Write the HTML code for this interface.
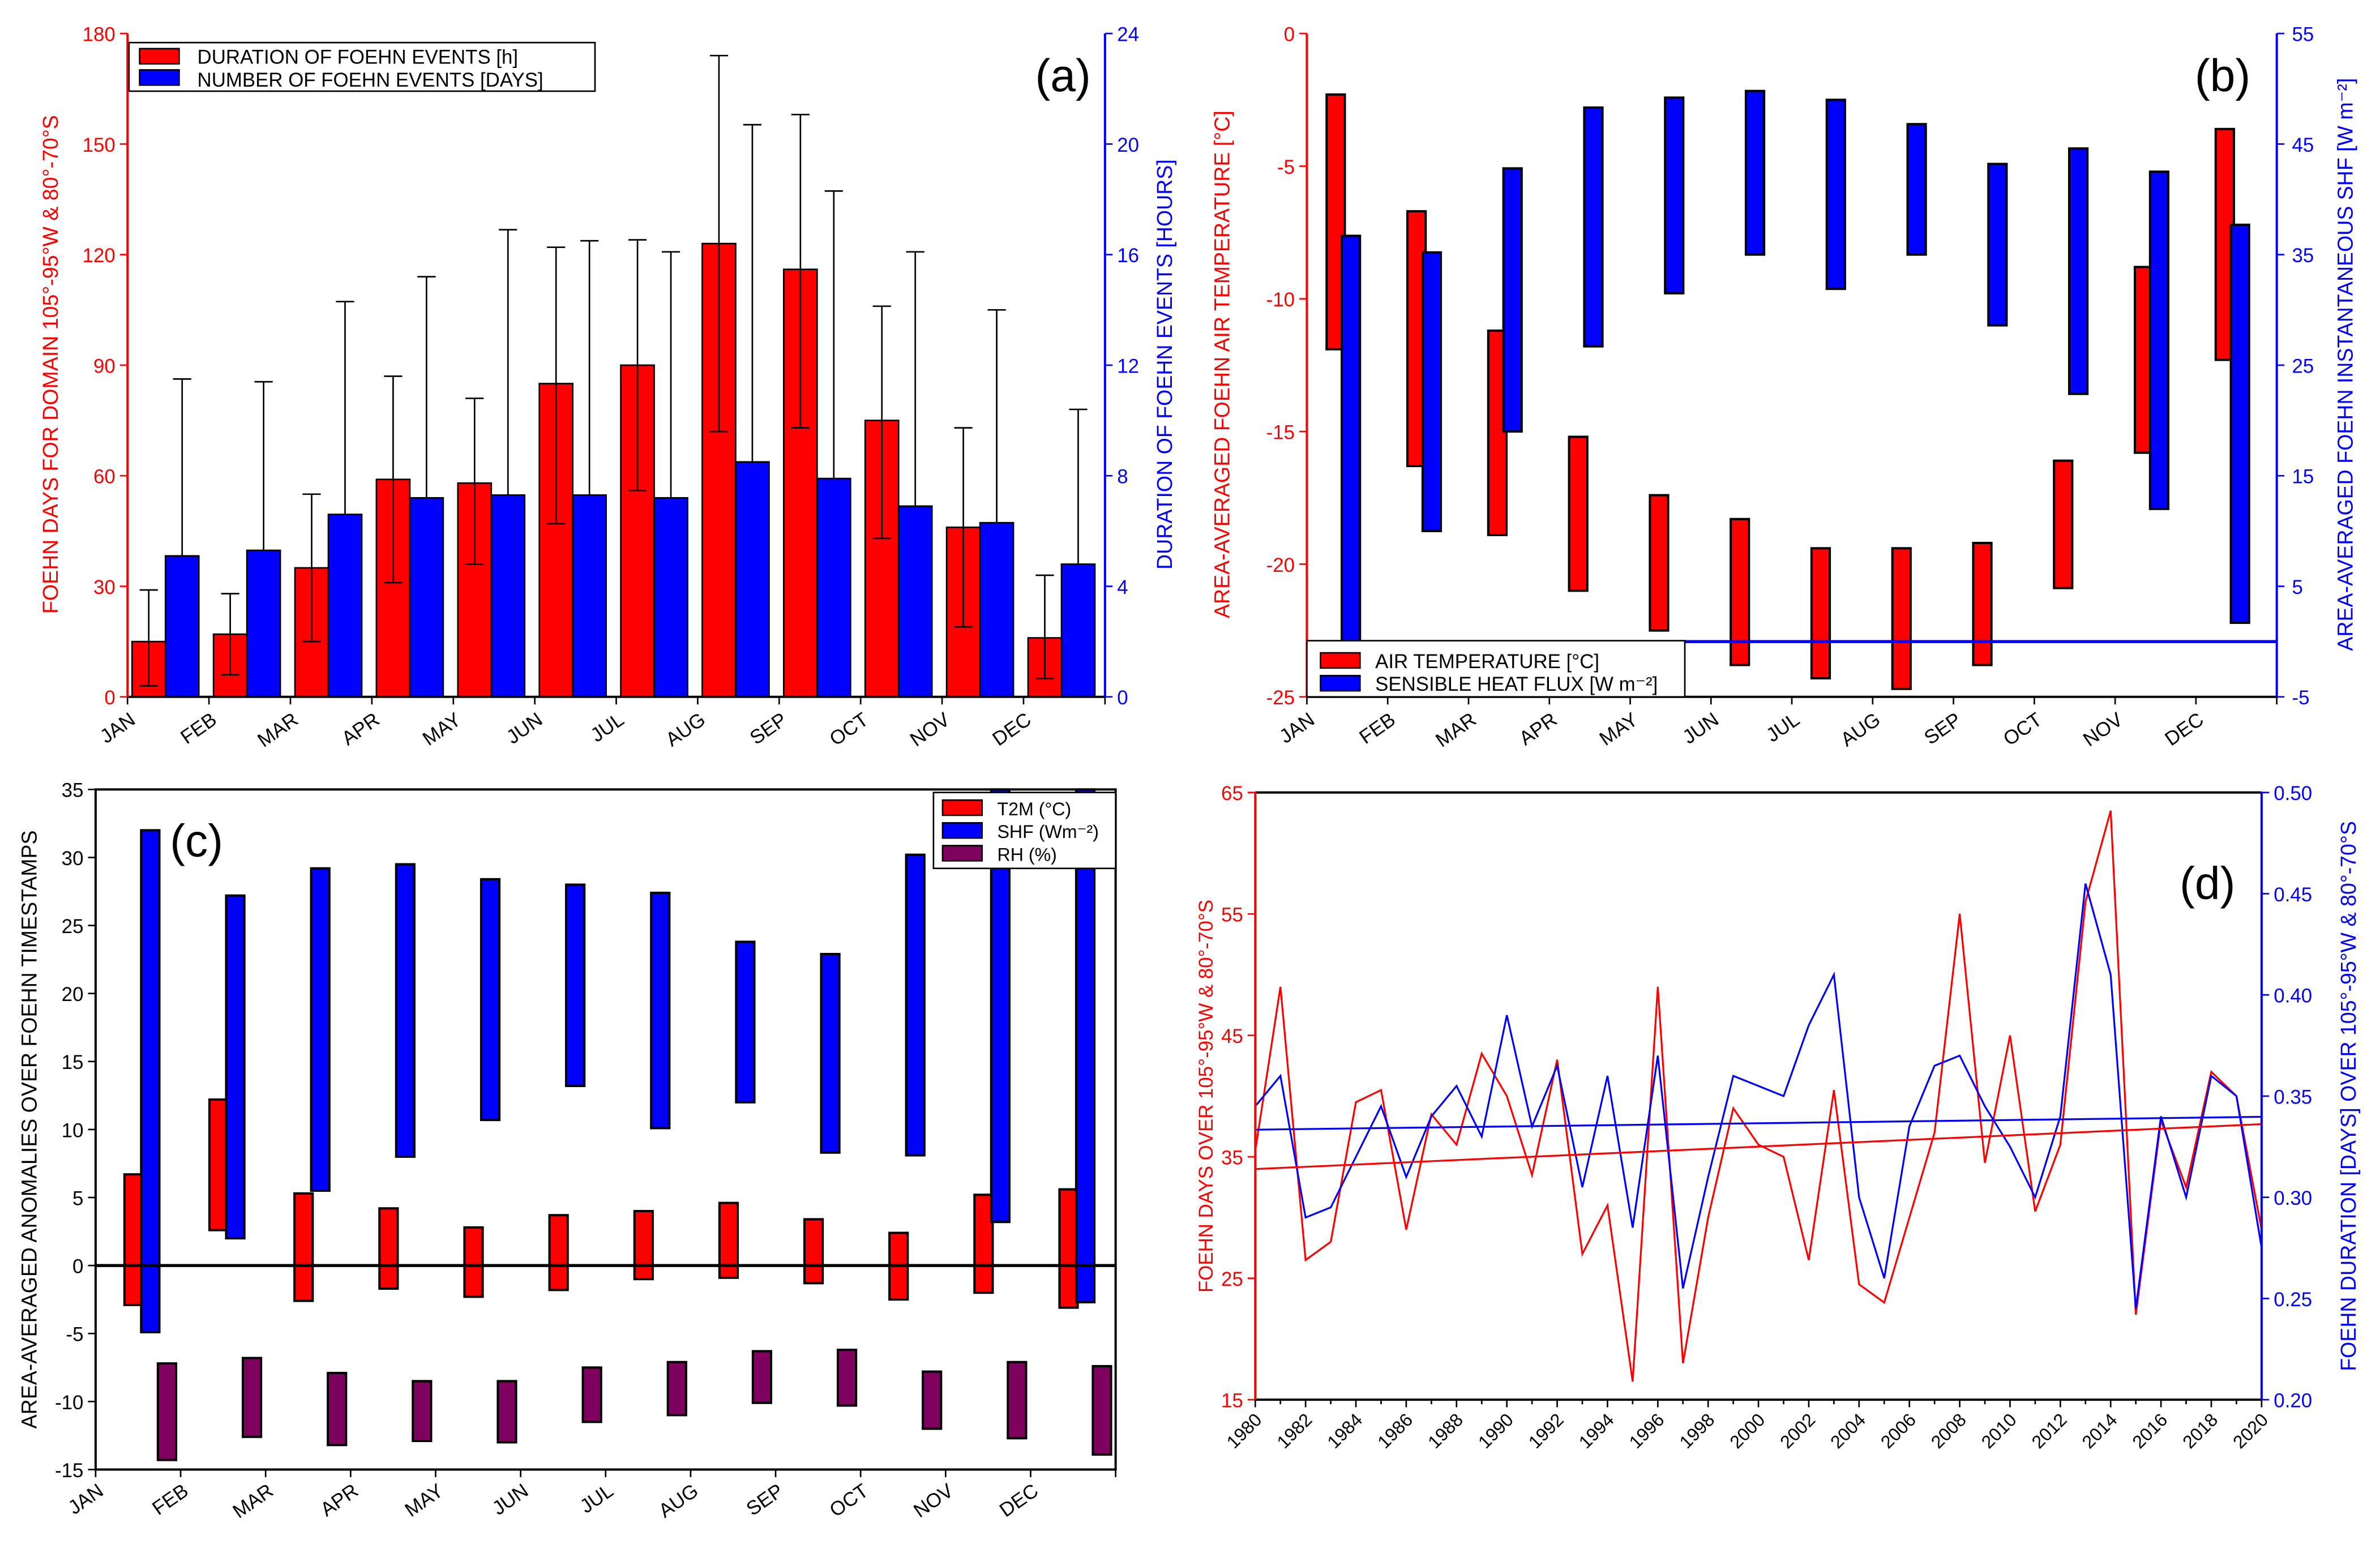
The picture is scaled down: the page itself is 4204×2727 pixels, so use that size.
<!DOCTYPE html>
<html><head><meta charset="utf-8">
<style>
html,body{margin:0;padding:0;background:#fff;}
svg{display:block;font-family:"Liberation Sans",sans-serif;}
</style></head>
<body>
<svg id="fig" width="4204" height="2727" viewBox="0 0 1568 1017" xmlns="http://www.w3.org/2000/svg"></svg>
<script>
const months=["JAN","FEB","MAR","APR","MAY","JUN","JUL","AUG","SEP","OCT","NOV","DEC"];
// panel a
const aDuration=[15,17,35,59,58,85,90,123,116,75,46,16];
const aDurLo=[3,6,15,31,36,47,56,72,73,43,19,5];
const aDurHi=[29,28,55,87,81,122,124,174,158,106,73,33];
const aEvents=[5.1,5.3,6.6,7.2,7.3,7.3,7.2,8.5,7.9,6.9,6.3,4.8];
const aEventsHi=[11.5,11.4,14.3,15.2,16.9,16.5,16.1,20.7,18.3,16.1,14,10.4];
const aLeftTicks=[0,30,60,90,120,150,180];
const aRightTicks=[0,4,8,12,16,20,24];
// panel b
const bTempTop=[-2.3,-6.7,-11.2,-15.2,-17.4,-18.3,-19.4,-19.4,-19.2,-16.1,-8.8,-3.6];
const bTempBot=[-11.9,-16.3,-18.9,-21,-22.5,-23.8,-24.3,-24.7,-23.8,-20.9,-15.8,-12.3];
const bShfTop=[36.7,35.2,42.8,48.3,49.2,49.8,49,46.8,43.2,44.6,42.5,37.7];
const bShfBot=[0,10,19,26.7,31.5,35,31.9,35,28.6,22.4,12,1.7];
const bLeftTicks=[0,-5,-10,-15,-20,-25];
const bRightTicks=[55,45,35,25,15,5,-5];
// panel c
const cT2mTop=[6.7,12.2,5.3,4.2,2.8,3.7,4,4.6,3.4,2.4,5.2,5.6];
const cT2mBot=[-2.9,2.6,-2.6,-1.7,-2.3,-1.8,-1,-0.9,-1.3,-2.5,-2,-3.1];
const cShfTop=[32,27.2,29.2,29.5,28.4,28,27.4,23.8,22.9,30.2,35,35];
const cShfBot=[-4.9,2,5.5,8,10.7,13.2,10.1,12,8.3,8.1,3.2,-2.7];
const cRhTop=[-7.2,-6.8,-7.9,-8.5,-8.5,-7.5,-7.1,-6.3,-6.2,-7.8,-7.1,-7.4];
const cRhBot=[-14.3,-12.6,-13.2,-12.9,-13,-11.5,-11,-10.1,-10.3,-12,-12.7,-13.9];
const cTicks=[35,30,25,20,15,10,5,0,-5,-10,-15];
// panel d
const dYears=[];for(let y=1980;y<=2020;y++)dYears.push(y);
const dDays=[35.5,49,26.5,28,39.5,40.5,29,38.5,36,43.5,40,33.5,43,27,31,16.5,49,18,30,39,36,35,26.5,40.5,24.5,23,30,37,55,34.5,45,30.5,36,56,63.5,22,38,32.5,42,40,29];
const dDur=[0.345,0.36,0.29,0.295,0.32,0.345,0.31,0.34,0.355,0.33,0.39,0.335,0.365,0.305,0.36,0.285,0.37,0.255,0.31,0.36,0.355,0.35,0.385,0.41,0.30,0.26,0.335,0.365,0.37,0.345,0.325,0.30,0.34,0.455,0.41,0.245,0.34,0.30,0.36,0.35,0.275];
const dLeftTicks=[15,25,35,45,55,65];
const dRightTicks=[0.20,0.25,0.30,0.35,0.40,0.45,0.50];

const svg=document.getElementById('fig');
const NS='http://www.w3.org/2000/svg';
function el(tag,attrs,parent,text){const e=document.createElementNS(NS,tag);for(const k in attrs)e.setAttribute(k,attrs[k]);if(text!==undefined)e.textContent=text;(parent||svg).appendChild(e);return e;}
function lin(d0,d1,r0,r1){return v=>r0+(v-d0)*(r1-r0)/(d1-d0);}
function txt(x,y,s,opt,name,parent){const t=el('text',Object.assign({x:x,y:y,'font-size':13},opt||{}),parent,s);

return t;}
function monthLabels(x0,w,y,g){months.forEach((m,i)=>{const x=x0+i*w+6;const t=txt(x,y,m,{'text-anchor':'end','transform':`rotate(-35 ${x} ${y})`,'font-size':13},'month-label',g);});}

// ===== panel a =====
(function(){
const g=el('g',{});


const X0=84,X1=728,Y0=22,Y1=459,w=(X1-X0)/12;
const yL=lin(0,180,Y1,Y0),yR=lin(0,24,Y1,Y0);
aDuration.forEach((v,i)=>{const x=X0+i*w+3;
const r=el('rect',{x:x,y:yL(v),width:22,height:yL(0)-yL(v),fill:'#f00',stroke:'#000','stroke-width':1},g);


const b=el('rect',{x:x+22,y:yR(aEvents[i]),width:22,height:yR(0)-yR(aEvents[i]),fill:'#00f',stroke:'#000','stroke-width':1},g);


const cx=x+11;
el('line',{x1:cx,x2:cx,y1:yL(aDurLo[i]),y2:yL(aDurHi[i]),stroke:'#000'},g);
el('line',{x1:cx-6,x2:cx+6,y1:yL(aDurLo[i]),y2:yL(aDurLo[i]),stroke:'#000'},g);
el('line',{x1:cx-6,x2:cx+6,y1:yL(aDurHi[i]),y2:yL(aDurHi[i]),stroke:'#000'},g);
const bx=x+33;
el('line',{x1:bx,x2:bx,y1:yR(aEvents[i]),y2:yR(aEventsHi[i]),stroke:'#000'},g);
el('line',{x1:bx-6,x2:bx+6,y1:yR(aEventsHi[i]),y2:yR(aEventsHi[i]),stroke:'#000'},g);
});
el('line',{x1:X0,x2:X1,y1:Y1,y2:Y1,stroke:'#000','stroke-width':1.5},g);
el('line',{x1:X0,x2:X0,y1:Y0,y2:Y1,stroke:'#f00','stroke-width':1.5},g);
el('line',{x1:X1,x2:X1,y1:Y0,y2:Y1,stroke:'#00f','stroke-width':1.5},g);
aLeftTicks.forEach(t=>{const y=yL(t);el('line',{x1:X0-5,x2:X0,y1:y,y2:y,stroke:'#f00'},g);txt(X0-8,y+5,t,{'text-anchor':'end',fill:'#f00'},'left-tick-label',g);});
aRightTicks.forEach(t=>{const y=yR(t);el('line',{x1:X1,x2:X1+5,y1:y,y2:y,stroke:'#00f'},g);txt(X1+8,y+5,t,{fill:'#00f'},'right-tick-label',g);});
for(let i=0;i<=12;i++){el('line',{x1:X0+i*w,x2:X0+i*w,y1:Y1,y2:Y1+5,stroke:'#000'},g);}
monthLabels(X0,w,476,g);
txt(38,240,'FOEHN DAYS FOR DOMAIN 105°-95°W & 80°-70°S',{fill:'#f00','text-anchor':'middle',transform:'rotate(-90 38 240)','font-size':14},'y-axis-title-left',g);
txt(772,240,'DURATION OF FOEHN EVENTS [HOURS]',{fill:'#00f','text-anchor':'middle',transform:'rotate(-90 772 240)','font-size':14},'y-axis-title-right',g);
const lg=el('g',{},g);
el('rect',{x:85,y:28,width:307,height:32,fill:'#fff',stroke:'#000'},lg);
el('rect',{x:92,y:32,width:26,height:10,fill:'#f00',stroke:'#000'},lg);
el('rect',{x:92,y:46,width:26,height:10,fill:'#00f',stroke:'#000'},lg);
txt(130,42,'DURATION OF FOEHN EVENTS [h]',{},'legend-entry',lg);
txt(130,57,'NUMBER OF FOEHN EVENTS [DAYS]',{},'legend-entry',lg);
txt(682,60,'(a)',{'font-size':30},'panel-label',g);
})();

// ===== panel b =====
(function(){
const g=el('g',{});


const X0=861,X1=1500,Y0=22,Y1=459,w=(X1-X0)/12;
const yL=lin(0,-25,Y0,Y1),yR=lin(55,-5,Y0,Y1);
bTempTop.forEach((v,i)=>{const x=X0+i*w+13;
const r=el('rect',{x:x,y:yL(v),width:12,height:yL(bTempBot[i])-yL(v),fill:'#f00',stroke:'#000','stroke-width':1.5},g);


const b=el('rect',{x:x+10,y:yR(bShfTop[i]),width:12,height:yR(bShfBot[i])-yR(bShfTop[i]),fill:'#00f',stroke:'#000','stroke-width':1.5},g);


});
el('line',{x1:X0,x2:X1,y1:yR(0),y2:yR(0),stroke:'#00f','stroke-width':2},g);
el('line',{x1:X0,x2:X1,y1:Y1,y2:Y1,stroke:'#000','stroke-width':1.5},g);
el('line',{x1:X0,x2:X0,y1:Y0,y2:Y1,stroke:'#f00','stroke-width':1.5},g);
el('line',{x1:X1,x2:X1,y1:Y0,y2:Y1,stroke:'#00f','stroke-width':1.5},g);
bLeftTicks.forEach(t=>{const y=yL(t);el('line',{x1:X0-5,x2:X0,y1:y,y2:y,stroke:'#f00'},g);txt(X0-8,y+5,t,{'text-anchor':'end',fill:'#f00'},'left-tick-label',g);});
bRightTicks.forEach(t=>{const y=yR(t);el('line',{x1:X1,x2:X1+5,y1:y,y2:y,stroke:'#00f'},g);txt(X1+10,y+5,t,{fill:'#00f'},'right-tick-label',g);});
for(let i=0;i<=12;i++){el('line',{x1:X0+i*w,x2:X0+i*w,y1:Y1,y2:Y1+5,stroke:'#000'},g);}
monthLabels(X0,w,476,g);
txt(810,240,'AREA-AVERAGED FOEHN AIR TEMPERATURE [°C]',{fill:'#f00','text-anchor':'middle',transform:'rotate(-90 810 240)','font-size':14},'y-axis-title-left',g);
txt(1550,240,'AREA-AVERAGED FOEHN INSTANTANEOUS SHF [W m⁻²]',{fill:'#00f','text-anchor':'middle',transform:'rotate(-90 1550 240)','font-size':14},'y-axis-title-right',g);
const lg=el('g',{},g);
el('rect',{x:861,y:422,width:249,height:37,fill:'#fff',stroke:'#000'},lg);
el('rect',{x:870,y:430,width:26,height:10,fill:'#f00',stroke:'#000'},lg);
el('rect',{x:870,y:445,width:26,height:10,fill:'#00f',stroke:'#000'},lg);
txt(906,440,'AIR TEMPERATURE [°C]',{},'legend-entry',lg);
txt(906,455,'SENSIBLE HEAT FLUX [W m⁻²]',{},'legend-entry',lg);
txt(1446,60,'(b)',{'font-size':30},'panel-label',g);
})();

// ===== panel c =====
(function(){
const g=el('g',{});


const X0=63,X1=735,Y0=520,Y1=968,w=(X1-X0)/12;
const y=lin(35,-15,Y0,Y1);
function bar(x,a,b,fill,name){const r=el('rect',{x:x,y:y(a),width:12,height:y(b)-y(a),fill:fill,stroke:'#000','stroke-width':1.5},g);

}
months.forEach((m,i)=>{const x=X0+i*w+19;
bar(x,cT2mTop[i],cT2mBot[i],'#f00','t2m-bar');
bar(x+11,cShfTop[i],cShfBot[i],'#00f','shf-bar');
bar(x+22,cRhTop[i],cRhBot[i],'#800060','rh-bar');});
el('line',{x1:X0,x2:X1,y1:y(0),y2:y(0),stroke:'#000','stroke-width':2},g);
el('rect',{x:X0,y:Y0,width:X1-X0,height:Y1-Y0,fill:'none',stroke:'#000','stroke-width':1.5},g);
cTicks.forEach(t=>{const yy=y(t);el('line',{x1:X0-5,x2:X0,y1:yy,y2:yy,stroke:'#000'},g);txt(X0-8,yy+5,t,{'text-anchor':'end'},'tick-label',g);});
for(let i=0;i<=12;i++){el('line',{x1:X0+i*w,x2:X0+i*w,y1:Y1,y2:Y1+5,stroke:'#000'},g);}
monthLabels(X0,w,984,g);
txt(24,744,'AREA-AVERAGED ANOMALIES OVER FOEHN TIMESTAMPS',{'text-anchor':'middle',transform:'rotate(-90 24 744)','font-size':14},'y-axis-title',g);
const lg=el('g',{},g);
el('rect',{x:615,y:522,width:120,height:50,fill:'#fff',stroke:'#000'},lg);
[['#f00','T2M (°C)'],['#00f','SHF (Wm⁻²)'],['#800060','RH (%)']].forEach((e,k)=>{
el('rect',{x:621,y:527+k*15,width:26,height:10,fill:e[0],stroke:'#000'},lg);
txt(657,537+k*15,e[1],{'font-size':12},'legend-entry',lg);});
txt(112,564,'(c)',{'font-size':30},'panel-label',g);
})();

// ===== panel d =====
(function(){
const g=el('g',{});


const X0=827,X1=1490,Y0=522,Y1=922;
const x=lin(1980,2020,X0,X1),yL=lin(15,65,Y1,Y0),yR=lin(0.2,0.5,Y1,Y0);
function reg(ys){const n=ys.length;let mx=0,my=0;dYears.forEach((t,i)=>{mx+=t;my+=ys[i];});mx/=n;my/=n;let sxy=0,sxx=0;dYears.forEach((t,i)=>{sxy+=(t-mx)*(ys[i]-my);sxx+=(t-mx)*(t-mx);});const b=sxy/sxx;return t=>my+b*(t-mx);}
const rd=reg(dDays),rb=reg(dDur);
const p1=el('polyline',{points:dYears.map((t,i)=>x(t)+','+yL(dDays[i])).join(' '),fill:'none',stroke:'#f00','stroke-width':1.2},g);


const p2=el('polyline',{points:dYears.map((t,i)=>x(t)+','+yR(dDur[i])).join(' '),fill:'none',stroke:'#00f','stroke-width':1.2},g);


const t1=el('line',{x1:x(1980),x2:x(2020),y1:yL(rd(1980)),y2:yL(rd(2020)),stroke:'#f00','stroke-width':1.2},g);


const t2=el('line',{x1:x(1980),x2:x(2020),y1:yR(rb(1980)),y2:yR(rb(2020)),stroke:'#00f','stroke-width':1.2},g);


el('line',{x1:X0,x2:X1,y1:Y1,y2:Y1,stroke:'#000','stroke-width':1.5},g);
el('line',{x1:X0,x2:X1,y1:Y0,y2:Y0,stroke:'#000','stroke-width':1.5},g);
el('line',{x1:X0,x2:X0,y1:Y0,y2:Y1,stroke:'#f00','stroke-width':1.5},g);
el('line',{x1:X1,x2:X1,y1:Y0,y2:Y1,stroke:'#00f','stroke-width':1.5},g);
dLeftTicks.forEach(t=>{const y=yL(t);el('line',{x1:X0-5,x2:X0,y1:y,y2:y,stroke:'#f00'},g);txt(X0-8,y+5,t,{'text-anchor':'end',fill:'#f00'},'left-tick-label',g);});
dRightTicks.forEach(t=>{const y=yR(t);el('line',{x1:X1,x2:X1+5,y1:y,y2:y,stroke:'#00f'},g);txt(X1+8,y+5,t.toFixed(2),{fill:'#00f'},'right-tick-label',g);});
dYears.forEach(t=>{el('line',{x1:x(t),x2:x(t),y1:Y1,y2:Y1+(t%2?3:5),stroke:'#000'},g);
if(t%2===0){const xx=x(t)+5,yy=936;txt(xx,yy,t,{'text-anchor':'end',transform:`rotate(-45 ${xx} ${yy})`,'font-size':12},'year-label',g);}});
txt(799,722,'FOEHN DAYS OVER 105°-95°W & 80°-70°S',{fill:'#f00','text-anchor':'middle',transform:'rotate(-90 799 722)','font-size':13},'y-axis-title-left',g);
txt(1552,722,'FOEHN DURATION [DAYS] OVER 105°-95°W & 80°-70°S',{fill:'#00f','text-anchor':'middle',transform:'rotate(-90 1552 722)','font-size':14},'y-axis-title-right',g);
txt(1436,592,'(d)',{'font-size':30},'panel-label',g);
})();
</script>
</body></html>
